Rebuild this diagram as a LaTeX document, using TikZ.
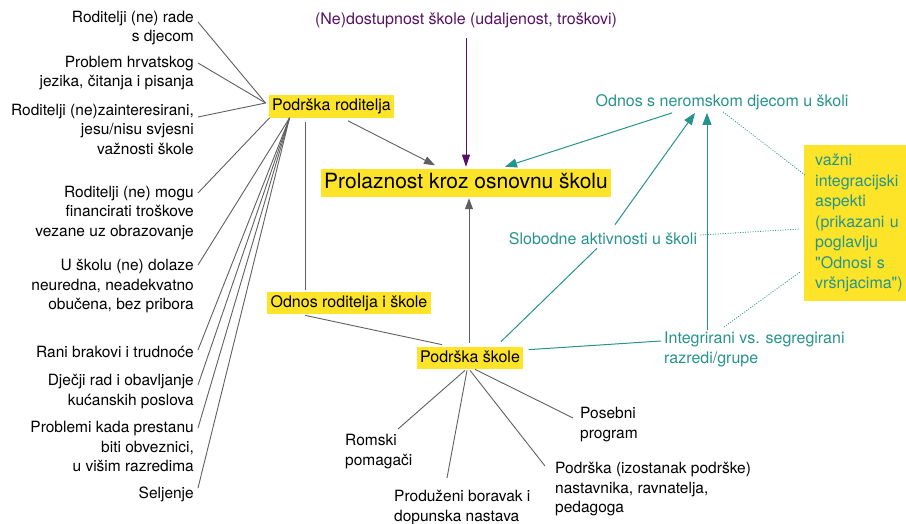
\documentclass[tikz,border=0pt]{standalone}
\usepackage{fontspec}
\setmainfont{TeX Gyre Heros}
\usepackage{tikz}
\usetikzlibrary{arrows.meta}
\definecolor{hlyellow}{RGB}{253,228,40}
\definecolor{linegray}{RGB}{95,95,95}
\definecolor{aspteal}{RGB}{38,148,140}
\definecolor{accpurple}{RGB}{88,16,100}
\tikzset{
  hl/.style    = {fill=hlyellow, inner xsep=3.5pt, inner ysep=3.5pt, text height=11.8pt, text depth=3.5pt, font=\fontsize{16}{19}\selectfont},
  item/.style  = {inner sep=0pt, font=\fontsize{15.5}{19.5}\selectfont},
  tlabel/.style= {inner sep=0pt, text=aspteal, font=\fontsize{16}{19.5}\selectfont},
  link/.style  = {draw=linegray, line width=0.9pt},
  flow/.style  = {link, -{Triangle[length=11pt,width=8pt]}},
  tlink/.style = {draw=aspteal, line width=1pt},
  tflow/.style = {tlink, -{Triangle[length=12pt,width=9pt]}},
  dots/.style  = {draw=aspteal, line width=0.8pt, dash pattern=on 1pt off 1.5pt},
}
\begin{document}
\begin{tikzpicture}[x=1pt,y=-1pt]
  \useasboundingbox (0,0) rectangle (906,524);
  % centre
  \node[hl, text height=15.5pt, text depth=4.6pt, font=\fontsize{21}{24}\selectfont] (pz) at (466,183) {Prolaznost kroz osnovnu školu};
  \node[inner sep=0pt, text=accpurple, font=\fontsize{16}{19}\selectfont] (nd) at (466,20) {(Ne)dostupnost škole (udaljenost, troškovi)};
  \node[hl] (pr) at (331.5,106.5) {Podrška roditelja};
  \node[hl] (ors) at (349,303) {Odnos roditelja i škole};
  \node[hl] (ps) at (470,358) {Podrška škole};
  % left column
  \node[item, anchor=north east, align=right] (t1) at (194,11) {Roditelji (ne) rade\\s djecom};
  \node[item, anchor=north east, align=right] (t2) at (194,56) {Problem hrvatskog\\jezika, čitanja i pisanja};
  \node[item, anchor=north east, align=right] (t3) at (194,104) {Roditelji (ne)zainteresirani,\\jesu/nisu svjesni\\važnosti škole};
  \node[item, anchor=north east, align=right] (t4) at (194,186) {Roditelji (ne) mogu\\financirati troškove\\vezane uz obrazovanje};
  \node[item, anchor=north east, align=right] (t5) at (194,259) {U školu (ne) dolaze\\neuredna, neadekvatno\\obučena, bez pribora};
  \node[item, anchor=north east, align=right] (t6) at (194,346) {Rani brakovi i trudnoće};
  \node[item, anchor=north east, align=right] (t7) at (194,374) {Dječji rad i obavljanje\\kućanskih poslova};
  \node[item, anchor=north east, align=right] (t8) at (194,421) {Problemi kada prestanu\\biti obveznici,\\u višim razredima};
  \node[item, anchor=north east, align=right] (t9) at (194,487) {Seljenje};
  % below
  \node[item, anchor=north west, align=left] (rp) at (345,434) {Romski\\pomagači};
  \node[item, anchor=north west, align=left] (pb) at (394,490) {Produženi boravak i\\dopunska nastava};
  \node[item, anchor=north west, align=left] (pn) at (555,462) {Podrška (izostanak podrške)\\nastavnika, ravnatelja,\\pedagoga};
  \node[item, anchor=north west, align=left] (pp) at (580,407) {Posebni\\program};
  % right side
  \node[tlabel] (ok) at (722,102) {Odnos s neromskom djecom u školi};
  \node[tlabel] (sa) at (603,239) {Slobodne aktivnosti u školi};
  \node[tlabel, anchor=north west, align=left] (ig) at (664,332) {Integrirani vs. segregirani\\razredi/grupe};
  \node[fill=hlyellow, text=aspteal, anchor=north west, align=left, text width=88pt, inner xsep=11pt, inner ysep=9pt,
        font=\fontsize{16}{20.5}\selectfont] (rb) at (804,145)
        {važni\\integracijski\\aspekti\\(prikazani u\\poglavlju\\\textquotedbl Odnosi s\\vršnjacima\textquotedbl)};

  \draw[link] ([shift={(4,11)}]t1.north east) -- ([shift={(-3,-3.5)}]pr.west);
  \draw[link] ([shift={(4,7)}]t2.north east) -- ([shift={(-3,-3.5)}]pr.west);
  \draw[link] ([shift={(4,13)}]t3.north east) -- ([shift={(-3,-3.5)}]pr.west);
  \draw[link] ([shift={(4,7)}]t4.north east) -- ([shift={(1,0)}]pr.south west);
  \draw[link] ([shift={(4,6)}]t5.north east) -- ([shift={(21,0)}]pr.south west);
  \draw[link] ([shift={(4,4)}]t6.north east) -- ([shift={(21,0)}]pr.south west);
  \draw[link] ([shift={(4,11)}]t7.north east) -- ([shift={(21,0)}]pr.south west);
  \draw[link] ([shift={(4,7)}]t8.north east) -- ([shift={(21,0)}]pr.south west);
  \draw[link] ([shift={(4,1)}]t9.north east) -- ([shift={(21,0)}]pr.south west);

  \draw[flow] ([shift={(16.5,3)}]pr.south) -- ([shift={(-31,-4)}]pz.north);
  \draw[link] ([shift={(-26.5,4)}]pr.south) -- ([shift={(-44,-2)}]ors.north);
  \draw[link] ([shift={(-44,1)}]ors.south) -- ([shift={(-28,-2)}]ps.north);
  \draw[flow] ([shift={(-1,-4)}]ps.north) -- ([shift={(3,1.5)}]pz.south);
  \draw[accpurple, line width=1pt, -{Triangle[length=12pt,width=8pt]}] ([shift={(0,10)}]nd.south) -- ([shift={(0,-2.5)}]pz.north);

  \draw[link] ([shift={(-5,1)}]ps.south) -- ([shift={(53,-5)}]rp.north west);
  \draw[link] ([shift={(-3,1)}]ps.south) -- ([shift={(53,-12)}]pb.north west);
  \draw[link] ([shift={(0,1)}]ps.south) -- ([shift={(-10,4)}]pn.north west);
  \draw[link] ([shift={(5,0)}]ps.south) -- ([shift={(-7,11)}]pp.north west);

  \draw[tflow] ([shift={(-50,3)}]ok.south) -- ([shift={(39,-2.5)}]pz.north);
  \draw[tlink] ([shift={(31,-5)}]ps.north) -- ([shift={(-6,3)}]sa.south);
  \draw[tflow] ([shift={(12,-8)}]sa.north) -- ([shift={(-27,3)}]ok.south);
  \draw[tflow] ([shift={(43,-2)}]ig.north west) -- ([shift={(-15,3)}]ok.south);
  \draw[tlink] ([shift={(-3,9)}]ig.north west) -- ([shift={(5,3)}]ps.north east);

  \draw[dots] ([shift={(1,2)}]ok.south) -- ([shift={(1,30)}]rb.north west);
  \draw[dots] ([shift={(3,-4)}]sa.east) -- ([shift={(-4,84)}]rb.north west);
  \draw[dots] ([shift={(60,-5)}]ig.north west) -- ([shift={(-4,127)}]rb.north west);
\end{tikzpicture}
\end{document}
